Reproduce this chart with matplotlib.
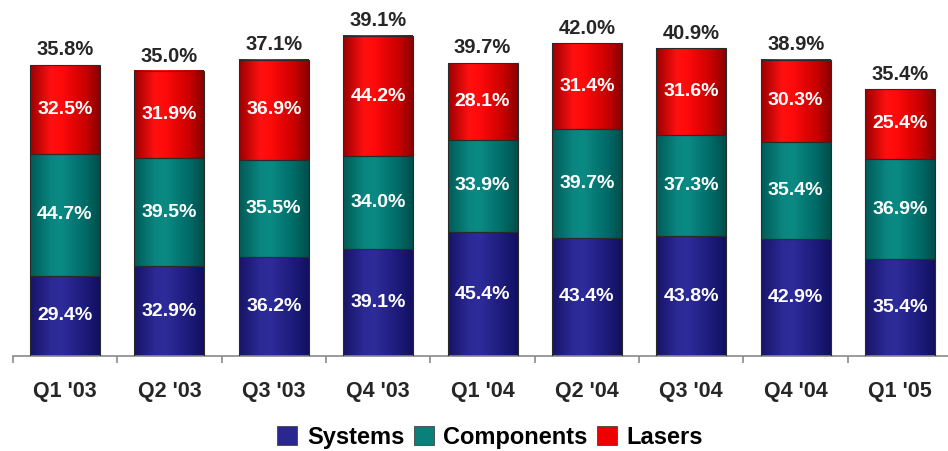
import matplotlib
matplotlib.use("Agg")
import matplotlib.pyplot as plt
import numpy as np
from matplotlib.colors import LinearSegmentedColormap
from matplotlib.patches import Patch

plt.rcParams['font.family'] = ['Liberation Sans', 'DejaVu Sans']

quarters = ["Q1 '03", "Q2 '03", "Q3 '03", "Q4 '03", "Q1 '04", "Q2 '04", "Q3 '04", "Q4 '04", "Q1 '05"]
systems = [29.4, 32.9, 36.2, 39.1, 45.4, 43.4, 43.8, 42.9, 35.4]
components = [44.7, 39.5, 35.5, 34.0, 33.9, 39.7, 37.3, 35.4, 36.9]
lasers = [32.5, 31.9, 36.9, 44.2, 28.1, 31.4, 31.6, 30.3, 25.4]
totals = [35.8, 35.0, 37.1, 39.1, 39.7, 42.0, 40.9, 38.9, 35.4]

series = [
    ("Systems", systems, ["#161466", "#2b2994", "#2e2c9a", "#1c1a78", "#121060"], "#2a2890"),
    ("Components", components, ["#005a56", "#0a8580", "#0b8a84", "#006a66", "#004e4a"], "#0a807b"),
    ("Lasers", lasers, ["#9a0000", "#ff1010", "#ff0a0a", "#c80000", "#880000"], "#ee0000"),
]

fig = plt.figure(figsize=(9.48, 4.51), dpi=100)
ax = fig.add_axes([0.0135, 0.2106, 0.991, 0.7264])

x = np.arange(len(quarters))
width = 0.67
bottoms = np.zeros(len(quarters))
grad = np.linspace(0, 1, 256).reshape(1, -1)

for name, vals, stops, _ in series:
    cmap = LinearSegmentedColormap.from_list(name, list(zip([0, 0.3, 0.45, 0.8, 1.0], stops)))
    vals = np.array(vals)
    bars = ax.bar(x, vals, width, bottom=bottoms, color="none",
                  edgecolor="#2a2a2a", linewidth=0.8, zorder=3)
    for rect, v, b in zip(bars, vals, bottoms):
        x0 = rect.get_x()
        ax.imshow(grad, cmap=cmap, aspect="auto", zorder=2,
                  extent=(x0, x0 + rect.get_width(), b, b + v))
        ax.text(rect.get_x() + rect.get_width() / 2, b + v / 2, f"{v:.1f}%",
                ha="center", va="center", color="white", fontsize=14,
                fontweight="bold", zorder=4)
    bottoms = bottoms + vals

for xi, top, t in zip(x, bottoms, totals):
    ax.annotate(f"{t:.1f}%", (xi, top), xytext=(0, 4), textcoords="offset points",
                ha="center", va="bottom", fontsize=14.5, fontweight="bold",
                color="#262626")

ax.set_xlim(-0.5, len(quarters) - 0.5)
ax.set_ylim(0, 120)
for s in ["top", "right", "left"]:
    ax.spines[s].set_visible(False)
ax.spines["bottom"].set_color("#8a8a8a")
ax.spines["bottom"].set_linewidth(1.2)
ax.set_yticks([])
ax.set_xticks(np.arange(len(quarters) + 1) - 0.5)
ax.set_xticklabels([])
ax.set_xticks(x, minor=True)
ax.set_xticklabels(quarters, minor=True, fontsize=15.5, fontweight="bold", color="#262626")
ax.tick_params(axis="x", which="major", direction="out", length=5, width=1.2, color="#8a8a8a")
ax.tick_params(axis="x", which="minor", length=0, pad=18)

handles = [Patch(facecolor=c, edgecolor="#444444", linewidth=0.6, label=n) for n, _, _, c in series]
fig.legend(handles=handles, loc="center", bbox_to_anchor=(0.517, 0.031), ncol=3,
           frameon=False, prop={"size": 17, "weight": "bold"},
           handlelength=0.85, handleheight=0.85, handletextpad=0.4, columnspacing=0.4,
           borderpad=0)

fig.savefig("out.png", dpi=100)
